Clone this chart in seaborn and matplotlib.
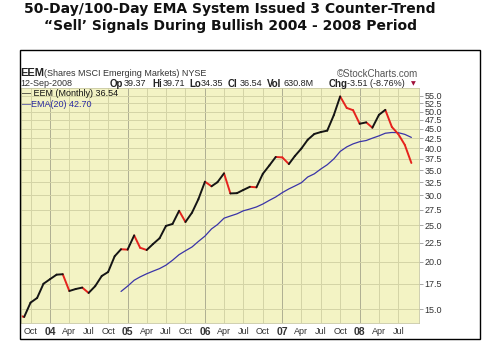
import matplotlib
matplotlib.use('Agg')
import matplotlib.pyplot as plt
import matplotlib.ticker as ticker
from matplotlib.patches import Rectangle
import pandas as pd
import seaborn as sns

# monthly closes, Aug 2003 .. Sep 2008
months = pd.date_range('2003-08-01', '2008-09-01', freq='MS')
price = [14.45, 14.3, 15.6, 16.05, 17.5,
         18.0, 18.5, 18.55, 16.75, 16.95, 17.1, 16.55, 17.25, 18.35, 18.8, 20.7, 21.6,
         21.55, 23.5, 21.8, 21.5, 22.3, 23.1, 24.9, 25.2, 27.3, 25.5, 27.0, 29.3,
         32.6, 31.7, 32.5, 34.3, 30.35, 30.4, 31.0, 31.6, 31.5, 34.2, 36.0, 37.9,
         37.8, 36.3, 38.1, 39.9, 42.1, 43.6, 44.1, 44.5, 48.9, 54.8, 51.1, 50.4,
         46.4, 46.8, 45.3, 49.0, 50.5, 45.5, 43.6, 40.8, 36.54]

# EMA(20), Dec 2004 .. Sep 2008
ema_months = pd.date_range('2004-12-01', '2008-09-01', freq='MS')
ema = [16.7, 17.25, 17.88, 18.25, 18.6, 18.9, 19.2, 19.6, 20.2, 20.9, 21.4, 21.9,
       22.65, 23.4, 24.45, 25.1, 26.1, 26.45, 26.8, 27.3, 27.6, 27.95, 28.45, 29.1,
       29.7, 30.5, 31.2, 31.75, 32.4, 33.55, 34.2, 35.2, 36.15, 37.45, 39.2, 40.3,
       41.05, 41.6, 41.9, 42.5, 43.1, 43.8, 44.0, 43.95, 43.5, 42.7]

y_ticks = [15, 17.5, 20, 22.5, 25, 27.5, 30, 32.5, 35, 37.5, 40, 42.5, 45, 47.5, 50, 52.5, 55]
x_ticks = pd.date_range('2003-10-01', '2008-07-01', freq='QS')
x_labels = [d.strftime('%y') if d.month == 1 else d.strftime('%b') for d in x_ticks]

# one row pair per monthly segment, coloured by direction
rows = []
for i in range(len(price) - 1):
    d = 'down' if price[i + 1] < price[i] else 'up'
    rows.append({'date': months[i], 'price': price[i], 'seg': i, 'dir': d})
    rows.append({'date': months[i + 1], 'price': price[i + 1], 'seg': i, 'dir': d})
segs = pd.DataFrame(rows)

sns.set_style('white')
plt.rcParams['font.family'] = ['DejaVu Sans']
small = 'Liberation Sans'

W, H = 495, 359
fig = plt.figure(figsize=(W / 100, H / 100), dpi=100)
fig.patch.set_facecolor('white')

def fx(x):
    return x / W

def fy(y):
    return 1 - y / H

ax = fig.add_axes([fx(21), fy(323), fx(419) - fx(21), fy(88) - fy(323)])
ax.set_facecolor('#f3f3c4')

sns.lineplot(x=ema_months, y=ema, color='#3a34a8', lw=0.9, ax=ax)
sns.lineplot(data=segs, x='date', y='price', hue='dir', units='seg', estimator=None,
             palette={'up': '#151515', 'down': '#e5231d'}, lw=1.4, legend=False, ax=ax,
             solid_capstyle='round')

ax.set_yscale('log')
ax.set_ylim(13.78, 57.7)
ax.set_xlim(pd.Timestamp('2003-08-17'), pd.Timestamp('2008-10-07'))
ax.yaxis.tick_right()
ax.yaxis.set_major_locator(ticker.FixedLocator(y_ticks))
ax.yaxis.set_minor_locator(ticker.NullLocator())
ax.yaxis.set_major_formatter(ticker.FormatStrFormatter('%.1f'))
ax.set_xticks(x_ticks)
ax.set_xticklabels(x_labels)
ax.set_xlabel('')
ax.set_ylabel('')
ax.tick_params(axis='y', length=3, width=0.6, color='#999999', pad=1, labelsize=6.5, labelcolor='#333333')
ax.tick_params(axis='x', length=0, pad=3, labelsize=6.5, labelcolor='#333333')
for lab in ax.get_yticklabels():
    lab.set_family(small)
for lab in ax.get_xticklabels():
    lab.set_family(small)
    if lab.get_text().isdigit():
        lab.set_fontweight('bold')
        lab.set_fontsize(7.5)

ax.grid(True, color='#d4d4a6', lw=0.7)
for d, gl in zip(x_ticks, ax.get_xgridlines()):
    if d.month == 1:
        gl.set_color('#aeae92')
for s in ax.spines.values():
    s.set_color('#c8c8a4')
    s.set_linewidth(0.6)

# outer frame
fig.patches.append(Rectangle((fx(20), fy(339)), fx(460), fy(50) - fy(339), fill=False,
                             edgecolor='black', lw=1.0, transform=fig.transFigure))

# title
fig.text(fx(230), fy(9.5), '50-Day/100-Day EMA System Issued 3 Counter-Trend',
         ha='center', va='center', fontsize=10, fontweight='bold', color='#111111')
fig.text(fx(230), fy(26), '\u201cSell\u2019 Signals During Bullish 2004 - 2008 Period',
         ha='center', va='center', fontsize=10, fontweight='bold', color='#111111')

# header lines
fig.text(fx(20), fy(73), 'EEM', ha='left', va='center', fontsize=8, fontweight='bold',
         color='#222222', family=small)
fig.text(fx(44), fy(73), '(Shares MSCI Emerging Markets) NYSE', ha='left', va='center',
         fontsize=6.5, color='#333333', family=small)
fig.text(fx(418), fy(74), '\u00a9StockCharts.com', ha='right', va='center', fontsize=7,
         color='#555555', family=small)
fig.text(fx(20), fy(84), '12-Sep-2008', ha='left', va='center', fontsize=6.5,
         color='#333333', family=small)
info = [(110, 'Op', True), (124, '39.37', False), (152, 'Hi', True), (163, '39.71', False),
        (189, 'Lo', True), (201, '34.35', False), (228, 'Cl', True), (240, '36.54', False),
        (267, 'Vol', True), (284, '630.8M', False), (329, 'Chg', True),
        (347, '-3.51 (-8.76%)', False)]
for x, t, b in info:
    fig.text(fx(x), fy(84), t, ha='left', va='center', fontsize=7 if b else 6.5,
             fontweight='bold' if b else 'normal', color='#222222', family=small)
fig.text(fx(411), fy(84), '\u25bc', ha='left', va='center', fontsize=4.5, color='#a0103a')

# legend
fig.text(fx(22), fy(93), '\u2014 EEM (Monthly) 36.54', ha='left', va='center', fontsize=6.5,
         color='#111111', family=small)
fig.text(fx(22), fy(104), '\u2014EMA(20) 42.70', ha='left', va='center', fontsize=6.5,
         color='#2a2aa0', family=small)

fig.savefig('out.png', dpi=100)
